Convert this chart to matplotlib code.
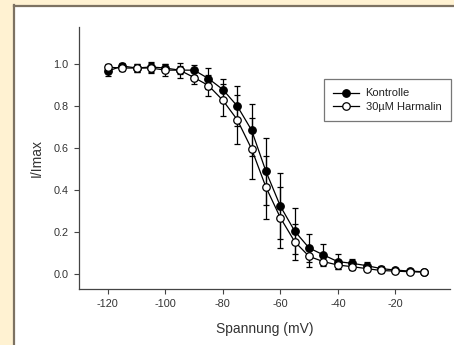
"""
Steady-state inactivation curve: Kontrolle vs. 30 uM Harmalin.
"""

import matplotlib.pyplot as plt
from matplotlib.patches import Rectangle
from matplotlib.lines import Line2D

plt.rcParams["font.family"] = ["Liberation Sans", "DejaVu Sans"]

# ---------------------------------------------------------------------------
# Data
# ---------------------------------------------------------------------------
voltage = [-120, -115, -110, -105, -100, -95, -90, -85, -80, -75, -70, -65,
           -60, -55, -50, -45, -40, -35, -30, -25, -20, -15, -10]

kontrolle = [0.965, 0.99, 0.98, 0.985, 0.98, 0.97, 0.97, 0.93, 0.878, 0.80,
             0.685, 0.489, 0.324, 0.205, 0.125, 0.092, 0.06, 0.052, 0.041,
             0.027, 0.02, 0.015, 0.012]
kontrolle_err = [0.025, 0.015, 0.02, 0.025, 0.02, 0.02, 0.025, 0.05, 0.05,
                 0.094, 0.125, 0.16, 0.155, 0.11, 0.065, 0.05, 0.035, 0.02,
                 0.015, 0.012, 0.01, 0.008, 0.008]

harmalin = [0.984, 0.98, 0.98, 0.98, 0.97, 0.97, 0.935, 0.897, 0.827, 0.735,
            0.596, 0.414, 0.269, 0.155, 0.085, 0.06, 0.044, 0.036, 0.027,
            0.018, 0.015, 0.012, 0.01]
harmalin_err = [0.015, 0.015, 0.02, 0.025, 0.03, 0.035, 0.03, 0.05, 0.076,
                0.115, 0.145, 0.15, 0.145, 0.085, 0.05, 0.02, 0.02, 0.015,
                0.012, 0.01, 0.008, 0.006, 0.006]

xticks = [-120, -100, -80, -60, -40, -20]
yticks = [0.0, 0.2, 0.4, 0.6, 0.8, 1.0]

# ---------------------------------------------------------------------------
# Figure with cream frame and white panel
# ---------------------------------------------------------------------------
W, H = 454, 345
fig = plt.figure(figsize=(W / 100, H / 100), dpi=100)
fig.patch.set_facecolor("#fff2d2")
fig.patches.append(Rectangle((13 / W, 0), 1 - 13 / W, 1 - 5 / H,
                             transform=fig.transFigure, facecolor="white",
                             edgecolor="none", zorder=-10))
border = "#7d7262"
fig.lines.append(Line2D([14 / W, 14 / W], [0, 1 - 5 / H], transform=fig.transFigure,
                        color=border, lw=1.6, zorder=-5))
fig.lines.append(Line2D([14 / W, 1], [1 - 6 / H, 1 - 6 / H], transform=fig.transFigure,
                        color=border, lw=1.6, zorder=-5))

ax = fig.add_axes([79 / W, 1 - 289 / H, (450 - 79) / W, (289 - 27) / H])
ax.set_facecolor("none")

style = dict(color="black", lw=0.9, marker="o", markersize=5.4,
             markeredgecolor="black", markeredgewidth=0.9)
ax.errorbar(voltage, kontrolle, yerr=kontrolle_err, markerfacecolor="black",
            capsize=2.5, elinewidth=0.9, capthick=0.9, zorder=3, **style)
ax.errorbar(voltage, harmalin, yerr=harmalin_err, markerfacecolor="white",
            capsize=2.5, elinewidth=0.9, capthick=0.9, zorder=4, **style)

ax.set_xlim(-130, -1)
ax.set_ylim(-0.07, 1.175)
ax.set_xticks(xticks)
ax.set_xticklabels([str(v) for v in xticks])
ax.set_yticks(yticks)
ax.set_yticklabels([f"{v:.1f}" for v in yticks])

for side in ("top", "right"):
    ax.spines[side].set_visible(False)
for side in ("left", "bottom"):
    ax.spines[side].set_color("#444444")
    ax.spines[side].set_linewidth(0.9)
ax.tick_params(direction="out", length=3.5, width=0.8, color="#444444",
               labelsize=7.8, labelcolor="#333333", pad=4)

ax.set_xlabel("Spannung (mV)", fontsize=10, color="#333333", labelpad=9)
ax.set_ylabel("I/Imax", fontsize=10, color="#333333", labelpad=7)

handles = [Line2D([], [], markerfacecolor="black", **style),
           Line2D([], [], markerfacecolor="white", **style)]
leg = ax.legend(handles, ["Kontrolle", "30µM Harmalin"],
                loc="upper left", bbox_to_anchor=(0.660, 0.8015), fontsize=8,
                frameon=True, fancybox=False, edgecolor="#555555",
                handlelength=2.3, handletextpad=0.6, borderpad=0.85,
                labelspacing=0.3, borderaxespad=0)
leg.get_frame().set_linewidth(0.9)
for t in leg.get_texts():
    t.set_color("#222222")

fig.savefig("out.png", dpi=100, facecolor=fig.get_facecolor())
